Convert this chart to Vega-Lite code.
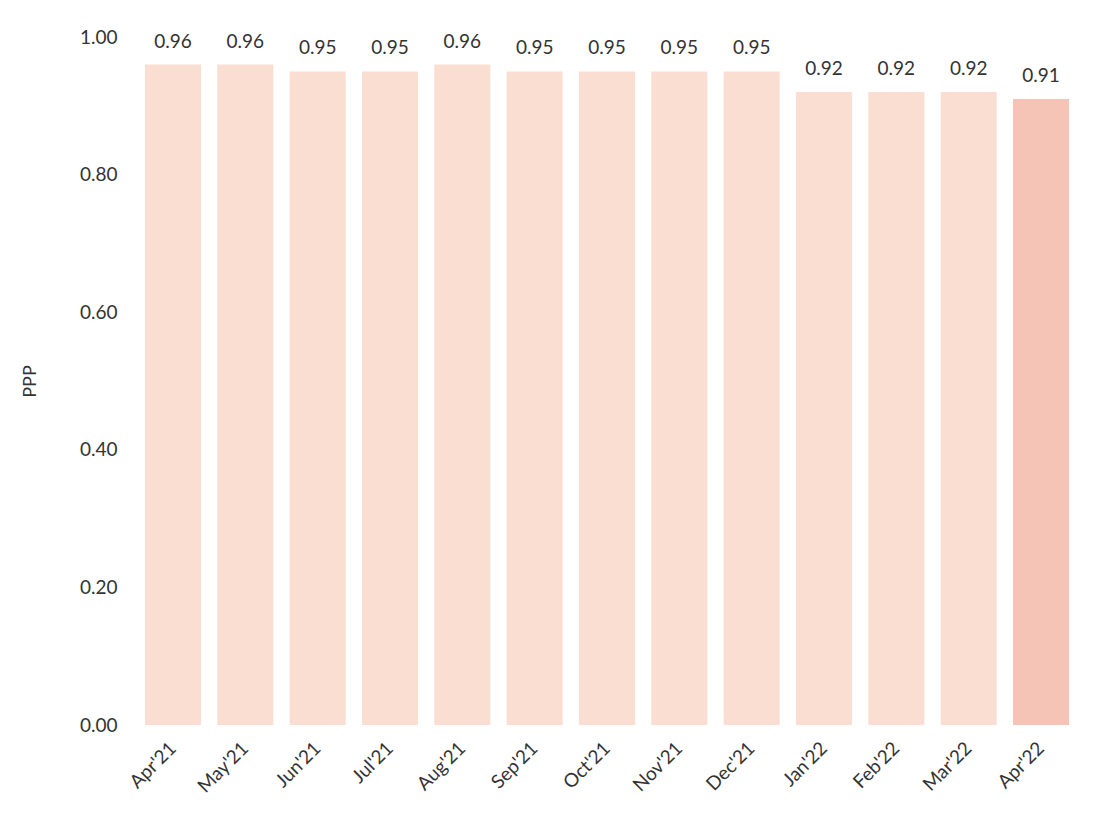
{
  "$schema": "https://vega.github.io/schema/vega-lite/v6.json",
  "width": 940,
  "height": 688,
  "autosize": {"type": "none"},
  "padding": {"left": 137, "top": 37, "right": 19, "bottom": 93},
  "background": "white",
  "config": {
    "view": {"stroke": null},
    "font": "Lato",
    "axis": {"labelFont": "Lato", "titleFont": "Lato", "labelColor": "#333333", "titleColor": "#333333"}
  },
  "data": {
    "values": [
      {"month": "Apr'21", "ppp": 0.96},
      {"month": "May'21", "ppp": 0.96},
      {"month": "Jun'21", "ppp": 0.95},
      {"month": "Jul'21", "ppp": 0.95},
      {"month": "Aug'21", "ppp": 0.96},
      {"month": "Sep'21", "ppp": 0.95},
      {"month": "Oct'21", "ppp": 0.95},
      {"month": "Nov'21", "ppp": 0.95},
      {"month": "Dec'21", "ppp": 0.95},
      {"month": "Jan'22", "ppp": 0.92},
      {"month": "Feb'22", "ppp": 0.92},
      {"month": "Mar'22", "ppp": 0.92},
      {"month": "Apr'22", "ppp": 0.91}
    ]
  },
  "encoding": {
    "x": {
      "field": "month", "type": "nominal", "sort": null,
      "scale": {"paddingInner": 0.225, "paddingOuter": 0.11},
      "axis": {"title": null, "labelAngle": -45, "labelAlign": "right", "labelBaseline": "middle", "labelFontSize": 19, "labelPadding": 20, "ticks": false, "domain": false}
    },
    "y": {
      "field": "ppp", "type": "quantitative",
      "scale": {"domain": [0, 1]},
      "axis": {"title": "PPP", "titleFontSize": 18, "titleFontWeight": "normal", "titlePadding": 40, "format": ".2f", "values": [0, 0.2, 0.4, 0.6, 0.8, 1.0], "labelFontSize": 19, "labelPadding": 20, "ticks": false, "domain": false, "grid": false}
    }
  },
  "layer": [
    {
      "mark": {"type": "bar"},
      "encoding": {
        "color": {
          "condition": {"test": "datum.month === \"Apr'22\"", "value": "#F5C4B7"},
          "value": "#F9DED1"
        }
      }
    },
    {
      "mark": {"type": "text", "baseline": "alphabetic", "dy": -17, "fontSize": 19, "color": "#333333", "font": "Lato"},
      "encoding": {
        "text": {"field": "ppp", "type": "quantitative", "format": ".2f"}
      }
    }
  ]
}
